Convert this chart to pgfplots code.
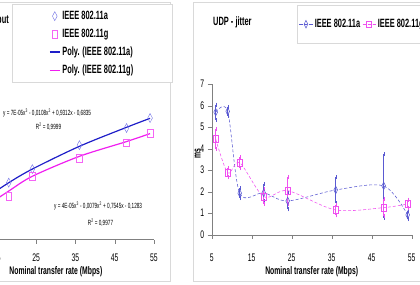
\documentclass[border=0pt]{standalone}
\usepackage{pgfplots}
\usepackage{pgfplotstable}
\pgfplotsset{compat=1.18}
\usepackage{fontspec}
\setmainfont[FakeStretch=0.62]{Liberation Sans}

\definecolor{lineA}{HTML}{1E1EC8}
\definecolor{lineG}{HTML}{F01EF0}
\definecolor{markA}{HTML}{7070E6}
\definecolor{markG}{HTML}{F564F5}
\definecolor{jitA}{HTML}{5A5AD2}
\definecolor{jitG}{HTML}{F050F0}
\definecolor{framegray}{HTML}{D9D9D9}
\definecolor{axisgray}{HTML}{808080}

% Throughput, measured points
\pgfplotstableread{
x y
18 13.0
24 16.4
36 22.4
48 26.7
54 29.2
}\thrA
\pgfplotstableread{
x y
18 9.65
24 14.66
36 19.1
48 23.0
54 25.36
}\thrG
% Throughput, polynomial trend lines
\pgfplotstableread{
x y
12 9.06
18 12.99
24 16.41
36 22.11
48 26.87
54 29.13
}\trendA
\pgfplotstableread{
x y
12 7.0
18 10.9
24 14.6
36 19.6
48 23.3
54 25.3
}\trendG
% UDP jitter (ms) with error
\pgfplotstableread{
x y e
6 5.70 0.35
9 5.74 0.20
12 1.93 0.23
18 1.95 0.39
24 1.57 0.39
36 2.08 0.60
48 2.27 1.47
54 0.92 0.20
}\jitterA
\pgfplotstableread{
x y e
6 4.45 0.45
9 2.88 0.20
12 3.35 0.25
18 1.77 0.34
24 2.05 0.64
36 1.15 0.25
48 1.26 0.39
54 1.43 0.20
}\jitterG

\pgfplotsset{
  panel/.style={
    scale only axis,
    axis x line=bottom, axis y line=left,
    axis line style={axisgray,-},
    tick align=outside, major tick length=4pt,
    tick style={axisgray},
    xmin=5, xmax=55, xtick={5,15,...,55},
    /pgf/number format/assume math mode=true,
    ticklabel style={font=\fontsize{11}{12}\selectfont},
    xlabel={Nominal transfer rate (Mbps)},
    xlabel style={font=\bfseries\fontsize{11}{12}\selectfont, anchor=center},
    legend image code/.code={
      \draw[mark repeat=2,mark phase=2,#1] plot coordinates {(0pt,0pt)(5pt,0pt)(10pt,0pt)};},
  },
}

\begin{document}
\begin{tikzpicture}[x=1pt,y=1pt]
\useasboundingbox (0,0) rectangle (420,284);
\clip (0,0) rectangle (420,284);
% chart area outlines
\draw[framegray] (-5,282) -- (170,282) -- (170,3) -- (-5,3);
\draw[framegray] (193,3) rectangle (430,282);

% Throughput panel
\begin{axis}[panel,
  at={(-42.25pt,44.5pt)}, anchor=south west,
  width=196.25pt, height=144.6pt,
  ymin=-1.25, ymax=35, ytick=\empty,
  xticklabel style={anchor=center, yshift=-14pt},
  xlabel style={at={(axis description cs:0.5,-0.2248)}},
  legend style={at={(axis description cs:0.2764,1.6286)}, anchor=north west,
    draw=framegray, fill=white, inner xsep=37pt, inner ysep=5pt, row sep=4pt,
    font=\bfseries\fontsize{12}{13}\selectfont},
  legend cell align=left,
]
\addplot[only marks, mark=diamond, mark size=4.5pt, mark options={markA, xscale=0.7}] table[x=x,y=y]{\thrA};
\addlegendentry{IEEE 802.11a}
\addplot[only marks, mark=square, mark size=3.8pt, mark options={markG, xscale=0.75}] table[x=x,y=y]{\thrG};
\addlegendentry{IEEE 802.11g}
\addplot[lineA, line width=1.2pt, smooth, no markers] table[x=x,y=y]{\trendA};
\addlegendentry{Poly. (IEEE 802.11a)}
\addplot[lineG, line width=1.2pt, smooth, no markers] table[x=x,y=y]{\trendG};
\addlegendentry{Poly. (IEEE 802.11g)}
\end{axis}

% trend line equations
\node[anchor=west, inner sep=0pt, font=\fontsize{7.5}{8}\selectfont] at (3,171)
  {y = 7E-05x\textsuperscript{3} - 0,0108x\textsuperscript{2} + 0,9312x - 0,6835};
\node[inner sep=0pt, font=\fontsize{7.5}{8}\selectfont] at (48.5,157)
  {R\textsuperscript{2} = 0,9999};
\node[anchor=west, inner sep=0pt, font=\fontsize{7.5}{8}\selectfont] at (54,78)
  {y = 4E-05x\textsuperscript{3} - 0,0079x\textsuperscript{2} + 0,7545x - 0,1283};
\node[inner sep=0pt, font=\fontsize{7.5}{8}\selectfont] at (100.5,61)
  {R\textsuperscript{2} = 0,9977};
\node[anchor=east, inner sep=0pt, font=\bfseries\fontsize{12}{13}\selectfont] at (9,264) {Throughput};

% UDP jitter panel
\begin{axis}[panel,
  at={(211.7pt,49.3pt)}, anchor=south west,
  width=200pt, height=150.5pt,
  ymin=0, ymax=7, ytick={0,1,...,7},
  xticklabel style={anchor=center, yshift=-19pt},
  yticklabel style={anchor=east},
  xlabel style={at={(axis description cs:0.5,-0.2478)}},
  ylabel={ms},
  ylabel style={at={(axis description cs:-0.07,0.54)}, anchor=center,
    font=\bfseries\fontsize{11}{12}\selectfont},
  legend columns=-1,
  legend style={at={(axis description cs:0.4265,1.526)}, anchor=north west,
    draw=framegray, fill=white, inner xsep=2pt, inner ysep=12pt, column sep=0pt,
    font=\bfseries\fontsize{12}{13}\selectfont},
  legend image code/.code={
    \draw[mark repeat=2,mark phase=2,#1] plot coordinates {(0pt,0pt)(6.5pt,0pt)(13pt,0pt)};},
]
\addplot[jitA, line width=0.55pt, dash pattern=on 3pt off 2pt, smooth,
  mark=diamond, mark size=3.8pt, mark options={solid, xscale=0.65},
  error bars/.cd, y dir=both, y explicit,
  error bar style={solid, jitA, line width=0.6pt},
  error mark options={jitA, mark size=2pt, solid}]
  table[x=x,y=y,y error=e]{\jitterA};
\addlegendentry{IEEE 802.11a}
\addplot[jitG, line width=0.55pt, dash pattern=on 3pt off 2pt, smooth,
  mark=square, mark size=3.3pt, mark options={solid, xscale=0.75},
  error bars/.cd, y dir=both, y explicit,
  error bar style={solid, jitG, line width=0.6pt},
  error mark options={jitG, mark size=2pt, solid}]
  table[x=x,y=y,y error=e]{\jitterG};
\addlegendentry{IEEE 802.11g}
\end{axis}
\node[anchor=west, inner sep=0pt, font=\bfseries\fontsize{12}{13}\selectfont] at (213,262) {UDP - jitter};
\end{tikzpicture}
\end{document}
